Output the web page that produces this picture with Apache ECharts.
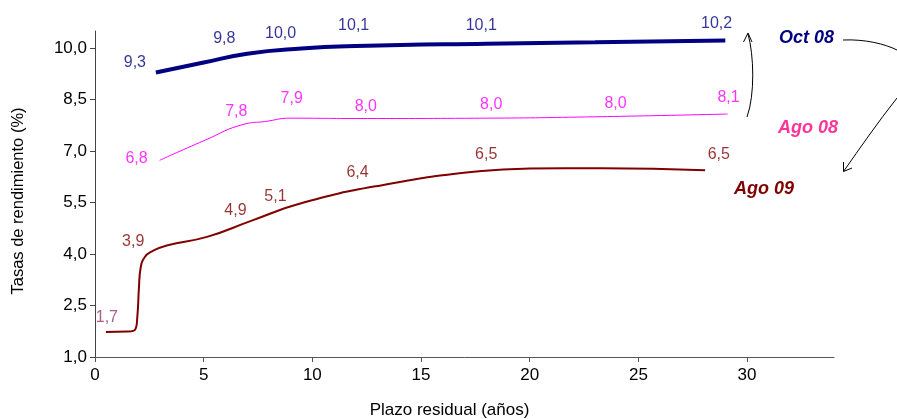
<!DOCTYPE html>
<html>
<head>
<meta charset="utf-8">
<script src="https://cdn.jsdelivr.net/npm/echarts@6/dist/echarts.min.js"></script>
<style>
  html, body { margin: 0; padding: 0; background: #fff; }
  #chart { width: 897px; height: 419px; }
</style>
</head>
<body>
<div id="chart"></div>
<script>
// tick values
var xTicks = [0, 5, 10, 15, 20, 25, 30];
var yTicks = [1, 2.5, 4, 5.5, 7, 8.5, 10];

// curves: [plazo (años), tasa (%)]
var oct08 = [[2.8, 9.29], [5, 9.58], [7, 9.84], [9.5, 9.99], [12, 10.06], [18, 10.13], [23, 10.17], [29, 10.22]];
var ago08 = [[2.97, 6.73], [5, 7.3], [6.9, 7.79], [7.8, 7.86], [9.0, 7.96], [12, 7.95], [18, 7.96], [23, 8.0], [29.1, 8.08]];
var ago09 = [[0.5, 1.73], [1.5, 1.74], [1.85, 1.8], [1.95, 2.2], [2.02, 3.0], [2.1, 3.6], [2.3, 3.92], [2.6, 4.07],
             [3.3, 4.25], [5.15, 4.5], [7.15, 4.96], [9.6, 5.5], [13.15, 6.0], [17.8, 6.42],
             [20, 6.49], [23.3, 6.5], [28.07, 6.44]];

// data labels
var oct08LabX = [2.8, 5.95, 8.54, 11.9, 17.77, 28.6];
var oct08LabV = [9.3, 9.8, 10.0, 10.1, 10.1, 10.2];
var ago08LabX = [2.97, 6.5, 9.05, 12.46, 18.23, 23.95, 29.15];
var ago08LabV = [6.8, 7.8, 7.9, 8.0, 8.0, 8.0, 8.1];
var ago09LabX = [0.5, 2.4, 6.46, 8.3, 12.08, 18.0, 28.7];
var ago09LabV = [1.7, 3.9, 4.9, 5.1, 6.4, 6.5, 6.5];

// label offsets (px)
var oct08Off = [[-21, -10], [0, -16], [0, -15], [0, -19], [0, -19], [0, -18]];
var ago08Off = [[-23, 1], [0, -12], [0, -22], [0, -10], [0, -12], [0, -13], [0, -16]];
var ago09Off = [[1, -15], [-14, -16], [0, -13], [0, -20], [0, 1], [0, -14], [0, -14]];

var FONT = 'Liberation Sans';
function fmt(v) { return v.toFixed(1).replace('.', ','); }

function labelSeries(xs, vs, offs, color, firstColor) {
  return {
    type: 'scatter',
    symbolSize: 0,
    silent: true,
    z: 5,
    data: xs.map(function (x, i) {
      return {
        value: [x, vs[i]],
        label: {
          show: true,
          position: 'inside',
          offset: offs[i],
          color: (i === 0 && firstColor) ? firstColor : color,
          fontFamily: FONT,
          fontSize: 16,
          formatter: function (p) { return fmt(p.value[1]); }
        }
      };
    })
  };
}

function lineSeries(data, color, width) {
  return {
    type: 'line',
    data: data,
    smooth: 0.5,
    showSymbol: false,
    silent: true,
    lineStyle: { color: color, width: width }
  };
}

var chart = echarts.init(document.getElementById('chart'));
chart.setOption({
  animation: false,
  grid: { left: 95, right: 63, top: 31, bottom: 62, outerBoundsMode: 'none', containLabel: false },
  xAxis: {
    type: 'value',
    min: 0, max: 34, interval: 5,
    name: 'Plazo residual (años)',
    nameLocation: 'middle',
    nameGap: 45,
    nameTextStyle: { fontFamily: FONT, fontSize: 17, color: '#000', padding: [0, 30, 0, 0] },
    axisLine: { lineStyle: { color: '#555', width: 1 } },
    axisTick: { length: 5, customValues: xTicks, lineStyle: { color: '#555' } },
    axisLabel: { customValues: xTicks, fontFamily: FONT, fontSize: 17, color: '#000', margin: 10 },
    splitLine: { show: false }
  },
  yAxis: {
    type: 'value',
    min: 1, max: 10.5, interval: 1.5,
    name: 'Tasas de rendimiento (%)',
    nameLocation: 'middle',
    nameGap: 68,
    nameTextStyle: { fontFamily: FONT, fontSize: 16.5, color: '#000', padding: [0, 0, 0, -14] },
    axisLine: { show: true, lineStyle: { color: '#444', width: 1 } },
    axisTick: { show: true, length: 5, customValues: yTicks, lineStyle: { color: '#444' } },
    axisLabel: {
      customValues: yTicks, fontFamily: FONT, fontSize: 17, color: '#000', margin: 8,
      formatter: function (v) { return fmt(v); }
    },
    splitLine: { show: false }
  },
  series: [
    lineSeries(ago09, '#800000', 2),
    lineSeries(ago08, '#FF00FF', 1),
    lineSeries(oct08, '#000080', 4),
    labelSeries(oct08LabX, oct08LabV, oct08Off, '#000080'),
    labelSeries(ago08LabX, ago08LabV, ago08Off, '#FF00FF'),
    labelSeries(ago09LabX, ago09LabV, ago09Off, '#800000', '#993366')
  ],
  graphic: [
    { type: 'text', left: 779, top: 29, style: { text: 'Oct 08', fill: '#000080', font: 'italic bold 18px "Liberation Sans"' } },
    { type: 'text', left: 778, top: 119, style: { text: 'Ago 08', fill: '#FF3399', font: 'italic bold 18px "Liberation Sans"' } },
    { type: 'text', left: 734, top: 180, style: { text: 'Ago 09', fill: '#800000', font: 'italic bold 18px "Liberation Sans"' } },
    { type: 'bezierCurve', shape: { x1: 747, y1: 117, cpx1: 755, cpy1: 95, cpx2: 754, cpy2: 55, x2: 748, y2: 34 },
      style: { stroke: '#000', lineWidth: 1, fill: null } },
    { type: 'polyline', shape: { points: [[743.5, 42], [748, 33], [752, 42]] }, style: { stroke: '#000', lineWidth: 1, fill: null } },
    { type: 'bezierCurve', shape: { x1: 843, y1: 40, cpx1: 865, cpx2: 885, cpy1: 39, cpy2: 44, x2: 897, y2: 50 },
      style: { stroke: '#000', lineWidth: 1, fill: null } },
    { type: 'bezierCurve', shape: { x1: 897, y1: 98, cpx1: 878, cpy1: 122, cpx2: 860, cpy2: 148, x2: 843.5, y2: 171.5 },
      style: { stroke: '#000', lineWidth: 1, fill: null } },
    { type: 'polyline', shape: { points: [[843.5, 162], [843.5, 171.5], [852, 168]] }, style: { stroke: '#000', lineWidth: 1, fill: null } }
  ]
});
</script>
</body>
</html>
